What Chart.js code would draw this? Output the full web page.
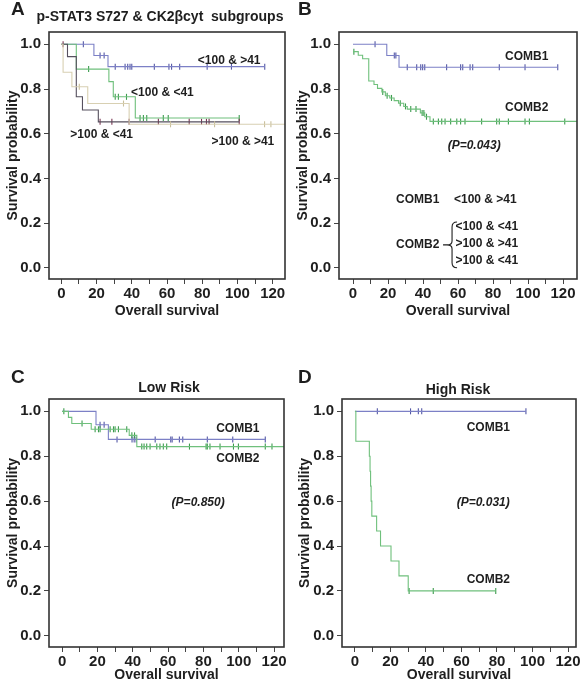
<!DOCTYPE html>
<html>
<head>
<meta charset="utf-8">
<script src="https://cdn.jsdelivr.net/npm/chart.js@4.4.1/dist/chart.umd.min.js"></script>
<style>
  body { margin: 0; background: #fff; }
  #wrap { position: relative; width: 586px; height: 684px; overflow: hidden;
          font-family: "Liberation Sans", Arial, sans-serif; color: #1e1e1e; }
  canvas { position: absolute; }
  .lbl { position: absolute; font-weight: bold; white-space: nowrap; line-height: 1; }
  .mid { transform: translate(-50%, -50%); }
</style>
</head>
<body>
<div id="wrap">
  <canvas id="cA" width="293" height="320" style="left:0;top:0"></canvas>
  <canvas id="cB" width="293" height="320" style="left:293px;top:0"></canvas>
  <canvas id="cC" width="293" height="354" style="left:0;top:330px"></canvas>
  <canvas id="cD" width="293" height="354" style="left:293px;top:330px"></canvas>

  <div class="lbl" style="left:11px;top:-1px;font-size:19px">A</div>
  <div class="lbl mid" style="left:160px;top:16px;font-size:14px">p-STAT3 S727 &amp; CK2βcyt&nbsp; subgroups</div>
  <div class="lbl" style="left:298px;top:-1px;font-size:19px">B</div>
  <div class="lbl" style="left:11px;top:367px;font-size:19px">C</div>
  <div class="lbl mid" style="left:169px;top:387px;font-size:14px">Low Risk</div>
  <div class="lbl" style="left:298px;top:367px;font-size:19px">D</div>
  <div class="lbl mid" style="left:458px;top:389px;font-size:14px">High Risk</div>
</div>

<script>
const FONT = '"Liberation Sans", Arial, sans-serif';
const INK = '#1e1e1e';

// ---- panel A : p-STAT3 S727 & CK2b cyt subgroups ----
// <100 & >41
const aG1Times = [0, 18.5, 26.5];
const aG1Surv = [1, 0.95, 0.90];
const aG1End = 115.5;
const aG1Cens = [12.5, 22, 24.3, 30.6, 36.2, 37.7, 39, 40, 52.8, 61.1, 62.6, 67.2, 82.8, 96.6, 115.5];
// <100 & <41
const aG2Times = [0, 8.5, 27, 29.5, 42];
const aG2Surv = [1, 0.889, 0.833, 0.765, 0.67];
const aG2End = 101;
const aG2Cens = [15.5, 30.6, 32.4, 37, 44.7, 46.6, 48.5, 57.9, 60.7, 101];
// >100 & >41
const aG3Times = [0, 1, 6, 15, 38.5];
const aG3Surv = [1, 0.875, 0.81, 0.735, 0.642];
const aG3End = 127;
const aG3Cens = [10.2, 35.3, 62, 87, 115.4, 119];
// >100 & <41
const aG4Times = [0, 3.5, 8.5, 12, 21];
const aG4Surv = [1, 0.945, 0.765, 0.706, 0.653];
const aG4End = 101;
const aG4Cens = [1, 22, 28.7, 38.5, 55.1, 72.6, 79.6, 82.4, 83.9, 101];

// ---- panel B : COMB1 vs COMB2 ----
const bC1Times = [0, 19.3, 26.3];
const bC1Surv = [1, 0.95, 0.897];
const bC1End = 117;
const bC1Cens = [12.6, 23.6, 24.5, 31, 36.4, 38.7, 39.8, 41, 53.5, 61.5, 62.7, 66.9, 68.4, 83.6, 98.3, 117];
const bC2Times = [0, 3, 5.5, 9, 12, 14, 16.5, 18.5, 21, 23.5, 26, 29, 31, 38.5, 41, 44];
const bC2Surv = [0.967, 0.951, 0.935, 0.836, 0.82, 0.803, 0.787, 0.77, 0.76, 0.748, 0.736, 0.722, 0.71, 0.693, 0.676, 0.655];
const bC2End = 128;
const bC2Cens = [0.5, 17, 19.5, 22, 27, 30, 33, 36, 39.5, 40.5, 42, 45.9, 48.8, 50.7, 52.6, 55.8, 59.3, 61.5, 64,
                 73.5, 82.1, 83.6, 88.8, 98.3, 100.8, 121];

// ---- panel C : Low Risk ----
const cC1Times = [0, 19.2, 26.2];
const cC1Surv = [1, 0.94, 0.875];
const cC1End = 115;
const cC1Cens = [21.5, 23.8, 31.1, 39.6, 40.8, 41.9, 52.7, 61.5, 62.3, 66.4, 68.3, 82.2, 96.6, 115];
const cC2Times = [0, 3.6, 5.5, 16.5, 38, 42.3];
const cC2Surv = [1, 0.973, 0.946, 0.92, 0.893, 0.843];
const cC2End = 125.6;
const cC2Cens = [1, 11.3, 18.7, 20.6, 21.5, 27.2, 29.1, 30, 31.9, 36.6, 39.5, 41, 45.1, 46.4, 47.9, 49.8, 53.6,
                 55.4, 57.3, 59.2, 72.1, 81.5, 82.2, 83.7, 89.4, 97, 99.8, 115, 118.8];

// ---- panel D : High Risk ----
const dC1Times = [0];
const dC1Surv = [1];
const dC1End = 96.3;
const dC1Cens = [12.6, 31.3, 35.7, 37.6, 96.3];
const dC2Times = [0, 0.5, 8.1, 8.5, 8.8, 9.1, 9.5, 12.2, 14.4, 20.3, 24.8, 30];
const dC2Surv = [1, 0.867, 0.8, 0.733, 0.667, 0.6, 0.533, 0.467, 0.4, 0.333, 0.267, 0.2];
const dC2End = 79.3;
const dC2Cens = [30.5, 44.1, 79.3];

const BLUE = '#7c80c6', BLUE_M = '#5458a6';
const GREEN = '#6fc07c', GREEN_M = '#3c9c4e';
const LIGHT = '#d8d0b2', LIGHT_M = '#c9bf9c';
const DARK = '#56505e', DARK_M = '#7a3552';

function kmPoints(times, surv, end) {
  const pts = times.map((t, i) => ({ x: t, y: surv[i] }));
  pts.push({ x: end, y: surv[surv.length - 1] });
  return pts;
}

function survAt(times, surv, t) {
  let s = surv[0];
  for (let i = 0; i < times.length; i++) if (times[i] <= t) s = surv[i];
  return s;
}

function curve(times, surv, end, color) {
  return {
    data: kmPoints(times, surv, end), showLine: true, stepped: true,
    borderColor: color, borderWidth: 1.1, pointRadius: 0, pointHoverRadius: 0, fill: false
  };
}

function marks(times, surv, cens, color) {
  return {
    data: cens.map(t => ({ x: t, y: survAt(times, surv, t) })), showLine: false,
    pointStyle: 'line', rotation: 90, pointRadius: 3, pointHoverRadius: 0,
    borderColor: color, borderWidth: 1.1
  };
}

// frame round the plot area
const framePlugin = {
  id: 'frame',
  afterDatasetsDraw(chart) {
    const { ctx, chartArea: a } = chart;
    ctx.save();
    ctx.strokeStyle = '#333';
    ctx.lineWidth = 1.6;
    ctx.strokeRect(a.left, a.top, a.right - a.left, a.bottom - a.top);
    ctx.restore();
  }
};

// text labels placed in data coordinates
function notesPlugin(items) {
  return {
    id: 'notes',
    afterDatasetsDraw(chart) {
      const { ctx, scales: { x, y } } = chart;
      ctx.save();
      ctx.fillStyle = INK;
      ctx.strokeStyle = INK;
      ctx.textBaseline = 'middle';
      ctx.textAlign = 'left';
      items.forEach(n => {
        const px = x.getPixelForValue(n.t);
        if (n.brace) {
          const yt = y.getPixelForValue(n.s0), yb = y.getPixelForValue(n.s1), ym = (yt + yb) / 2;
          ctx.lineWidth = 1.1;
          ctx.beginPath();
          ctx.moveTo(px + 5, yt);
          ctx.quadraticCurveTo(px, yt, px, yt + 5);
          ctx.lineTo(px, ym - 4);
          ctx.quadraticCurveTo(px, ym, px - 5, ym);
          ctx.quadraticCurveTo(px, ym, px, ym + 4);
          ctx.lineTo(px, yb - 5);
          ctx.quadraticCurveTo(px, yb, px + 5, yb);
          ctx.moveTo(px - 5, ym);
          ctx.lineTo(px - 9, ym);
          ctx.stroke();
        } else {
          ctx.font = (n.italic ? 'italic ' : '') + 'bold 12px ' + FONT;
          ctx.fillText(n.text, px, y.getPixelForValue(n.s));
        }
      });
      ctx.restore();
    }
  };
}

function makeKm(id, p) {
  const tickFont = { family: FONT, size: 15, weight: 'bold' };
  const titleFont = { family: FONT, size: 14, weight: 'bold' };
  new Chart(document.getElementById(id), {
    type: 'scatter',
    data: { datasets: p.datasets },
    options: {
      responsive: false,
      animation: false,
      devicePixelRatio: 1,
      layout: { padding: { left: 0, top: p.top, right: p.right, bottom: 0 } },
      plugins: { legend: { display: false }, tooltip: { enabled: false } },
      scales: {
        x: {
          type: 'linear', min: p.xMin, max: p.xMax,
          afterFit(s) { s.height = p.xh; },
          ticks: {
            stepSize: 10, includeBounds: false, autoSkip: false, maxRotation: 0, padding: 1,
            color: INK, font: tickFont,
            callback: v => (v % 20 === 0 ? String(v) : '')
          },
          grid: { drawOnChartArea: false, drawTicks: true, tickLength: 5, color: '#444' },
          border: { display: false },
          title: { display: true, text: 'Overall survival', color: INK, font: titleFont, padding: 0 }
        },
        y: {
          type: 'linear', min: -0.05, max: 1.055,
          afterFit(s) { s.width = p.yw; },
          ticks: {
            stepSize: 0.2, includeBounds: false, padding: 3, color: INK, font: tickFont,
            callback: v => v.toFixed(1)
          },
          grid: { drawOnChartArea: false, drawTicks: true, tickLength: 5, color: '#444' },
          border: { display: false },
          title: {
            display: true, text: 'Survival probability', color: INK, font: titleFont,
            padding: { top: p.tp, bottom: 0 }
          }
        }
      }
    },
    plugins: [framePlugin, notesPlugin(p.notes)]
  });
}

makeKm('cA', {
  top: 32, right: 8, yw: 49, xh: 41, tp: 4.6, xMin: -7, xMax: 127,
  datasets: [
    curve(aG3Times, aG3Surv, aG3End, LIGHT), marks(aG3Times, aG3Surv, aG3Cens, LIGHT_M),
    curve(aG4Times, aG4Surv, aG4End, DARK), marks(aG4Times, aG4Surv, aG4Cens, DARK_M),
    curve(aG2Times, aG2Surv, aG2End, GREEN), marks(aG2Times, aG2Surv, aG2Cens, GREEN_M),
    curve(aG1Times, aG1Surv, aG1End, BLUE), marks(aG1Times, aG1Surv, aG1Cens, BLUE_M)
  ],
  notes: [
    { text: '<100 & >41', t: 77.5, s: 0.925 },
    { text: '<100 & <41', t: 39.6, s: 0.784 },
    { text: '>100 & <41', t: 5.1, s: 0.594 },
    { text: '>100 & >41', t: 85.3, s: 0.564 }
  ]
});

makeKm('cB', {
  top: 32, right: 9, yw: 46, xh: 41, tp: 1.6, xMin: -8, xMax: 128,
  datasets: [
    curve(bC2Times, bC2Surv, bC2End, GREEN), marks(bC2Times, bC2Surv, bC2Cens, GREEN_M),
    curve(bC1Times, bC1Surv, bC1End, BLUE), marks(bC1Times, bC1Surv, bC1Cens, BLUE_M)
  ],
  notes: [
    { text: 'COMB1', t: 86.9, s: 0.944 },
    { text: 'COMB2', t: 86.9, s: 0.715 },
    { text: '(P=0.043)', t: 54.1, s: 0.547, italic: true },
    { text: 'COMB1', t: 24.6, s: 0.303 },
    { text: '<100 & >41', t: 57.7, s: 0.303 },
    { text: 'COMB2', t: 24.6, s: 0.105 },
    { brace: true, t: 56.6, s0: 0.205, s1: 0.0 },
    { text: '<100 & <41', t: 58.5, s: 0.185 },
    { text: '>100 & >41', t: 58.5, s: 0.108 },
    { text: '>100 & <41', t: 58.5, s: 0.034 }
  ]
});

makeKm('cC', {
  top: 69, right: 9, yw: 49, xh: 37, tp: 4.6, xMin: -7.4, xMax: 125.6,
  datasets: [
    curve(cC2Times, cC2Surv, cC2End, GREEN), marks(cC2Times, cC2Surv, cC2Cens, GREEN_M),
    curve(cC1Times, cC1Surv, cC1End, BLUE), marks(cC1Times, cC1Surv, cC1Cens, BLUE_M)
  ],
  notes: [
    { text: 'COMB1', t: 87.2, s: 0.922 },
    { text: 'COMB2', t: 87.2, s: 0.788 },
    { text: '(P=0.850)', t: 62, s: 0.593, italic: true }
  ]
});

makeKm('cD', {
  top: 69, right: 10, yw: 49, xh: 37, tp: 3.6, xMin: -7.3, xMax: 124.5,
  datasets: [
    curve(dC2Times, dC2Surv, dC2End, GREEN), marks(dC2Times, dC2Surv, dC2Cens, GREEN_M),
    curve(dC1Times, dC1Surv, dC1End, BLUE), marks(dC1Times, dC1Surv, dC1Cens, BLUE_M)
  ],
  notes: [
    { text: 'COMB1', t: 62.9, s: 0.927 },
    { text: 'COMB2', t: 62.9, s: 0.25 },
    { text: '(P=0.031)', t: 57.3, s: 0.592, italic: true }
  ]
});
</script>
</body>
</html>
